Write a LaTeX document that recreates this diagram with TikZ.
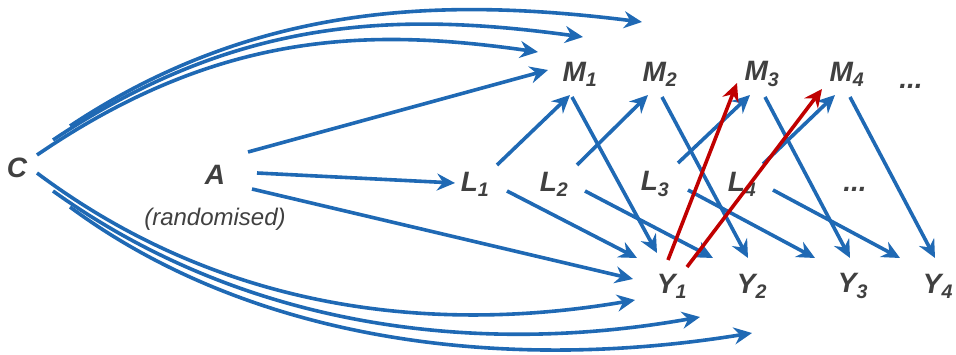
\documentclass[tikz,border=0pt]{standalone}
\usepackage{fontspec}
\setmainfont{Liberation Sans}
\usetikzlibrary{arrows.meta}
\definecolor{causeblue}{HTML}{1F69B4}
\definecolor{pathred}{HTML}{C00000}
\definecolor{labelgrey}{HTML}{404040}
\newcommand{\varfont}{\fontsize{28}{32}\selectfont\bfseries\itshape}

\begin{document}
\begin{tikzpicture}[
x=1pt,y=-1pt,
var/.style={font=\varfont,text=labelgrey,inner sep=0pt},
note/.style={font=\fontsize{24}{28}\selectfont\itshape,text=labelgrey,inner sep=0pt},
arr/.style={draw=causeblue,line width=3.6pt,-{Stealth[length=18pt,width=17pt,inset=6pt]}},
redarr/.style={arr,draw=pathred}
]
\useasboundingbox (0,0) rectangle (956,355);

% confounder and treatment
\node[var] (C) at (17,168) {C};
\node[var] (A) at (215,175) {A};
\node[note] (rand) at (215,219) {(randomised)};

% mediators, time-varying confounders, outcomes
\node[var] (M1) at (580,74) {M\textsubscript{1}};
\node[var] (M2) at (660,74) {M\textsubscript{2}};
\node[var] (M3) at (762,74) {M\textsubscript{3}};
\node[var] (M4) at (847,74) {M\textsubscript{4}};
\node[var] (Mdots) at (911,86) {...};
\node[var] (L1) at (475,184) {L\textsubscript{1}};
\node[var] (L2) at (554,184) {L\textsubscript{2}};
\node[var] (L3) at (655,184) {L\textsubscript{3}};
\node[var] (L4) at (742,184) {L\textsubscript{4}};
\node[var] (Ldots) at (855,189) {...};
\node[var] (Y1) at (672,286) {Y\textsubscript{1}};
\node[var] (Y2) at (752,286) {Y\textsubscript{2}};
\node[var] (Y3) at (853,286) {Y\textsubscript{3}};
\node[var] (Y4) at (938,286) {Y\textsubscript{4}};

% free ends of the arrows from C
\coordinate (cTop1) at (642,22);
\coordinate (cTop2) at (583,37);
\coordinate (cTop3) at (538,52);
\coordinate (cBot1) at (635,300);
\coordinate (cBot2) at (700,317);
\coordinate (cBot3) at (752,333);

\draw[arr] ([shift={(53,-42)}]C.center) .. controls (260,0) and (450,-2) .. (cTop1);
\draw[arr] ([shift={(36,-28)}]C.center) .. controls (240,15) and (400,12) .. (cTop2);
\draw[arr] ([shift={(20,-13)}]C.center) .. controls (220,30) and (370,28) .. (cTop3);
\draw[arr] ([shift={(20,5)}]C.center) .. controls (220,310) and (430,335) .. (cBot1);
\draw[arr] ([shift={(36,23)}]C.center) .. controls (240,325) and (470,358) .. (cBot2);
\draw[arr] ([shift={(53,39)}]C.center) .. controls (250,340) and (500,374) .. (cBot3);

% from A
\draw[arr] ([shift={(33,-23)}]A.center) -- ([shift={(-32,-4)}]M1.center);
\draw[arr] ([shift={(42,-2)}]A.center) -- ([shift={(-20,-1)}]L1.center);
\draw[arr] ([shift={(37,14)}]A.center) -- ([shift={(-39,-7)}]Y1.center);

% L -> M
\draw[arr] ([shift={(22,-19)}]L1.center) -- ([shift={(-10,21)}]M1.center);
\draw[arr] ([shift={(23,-19)}]L2.center) -- ([shift={(-12,21)}]M2.center);
\draw[arr] ([shift={(23,-21)}]L3.center) -- ([shift={(-12,21)}]M3.center);
\draw[arr] ([shift={(21,-20)}]L4.center) -- ([shift={(-12,21)}]M4.center);

% L -> Y
\draw[arr] ([shift={(32,7)}]L1.center) -- ([shift={(-35,-28)}]Y1.center);
\draw[arr] ([shift={(31,7)}]L2.center) -- ([shift={(-39,-28)}]Y2.center);
\draw[arr] ([shift={(33,6)}]L3.center) -- ([shift={(-38,-28)}]Y3.center);
\draw[arr] ([shift={(31,6)}]L4.center) -- ([shift={(-38,-28)}]Y4.center);

% M -> Y
\draw[arr] ([shift={(-8,23)}]M1.center) -- ([shift={(-15,-33)}]Y1.center);
\draw[arr] ([shift={(2,23)}]M2.center) -- ([shift={(-4,-28)}]Y2.center);
\draw[arr] ([shift={(3,23)}]M3.center) -- ([shift={(-3,-28)}]Y3.center);
\draw[arr] ([shift={(3,23)}]M4.center) -- ([shift={(-3,-28)}]Y4.center);

% Y1 -> later M
\draw[redarr] ([shift={(-4,-26)}]Y1.center) -- ([shift={(-25,9)}]M3.center);
\draw[redarr] ([shift={(15,-19)}]Y1.center) -- ([shift={(-25,15)}]M4.center);
\end{tikzpicture}
\end{document}
